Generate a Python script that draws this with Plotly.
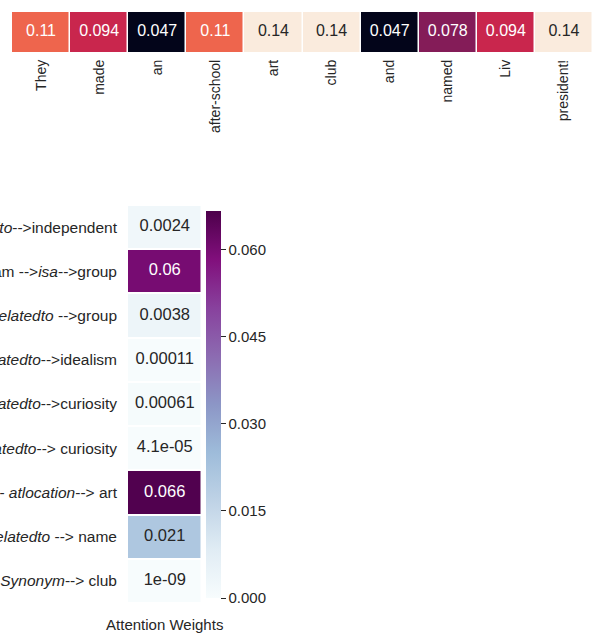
import plotly.graph_objects as go

# ---------------- data ----------------
tokens = ["They", "made", "an", "after-school", "art", "club", "and", "named", "Liv", "president!"]
token_weights = [0.11, 0.094, 0.047, 0.11, 0.14, 0.14, 0.047, 0.078, 0.094, 0.14]
token_text = ["0.11", "0.094", "0.047", "0.11", "0.14", "0.14", "0.047", "0.078", "0.094", "0.14"]

relations = [
    "art --<i>relatedto</i>-->independent",
    "team -->isa-->group".replace("isa", "<i>isa</i>"),
    "club --<i>relatedto</i> -->group",
    "art --<i>relatedto</i>-->idealism",
    "art --<i>relatedto</i>-->curiosity",
    "club --<i>relatedto</i>--> curiosity",
    "club -- <i>atlocation</i>--> art",
    "named --<i>relatedto</i> --> name",
    "society -- <i>Synonym</i>--> club",
]
relation_weights = [0.0024, 0.06, 0.0038, 0.00011, 0.00061, 4.1e-05, 0.066, 0.021, 1e-09]
relation_text = ["0.0024", "0.06", "0.0038", "0.00011", "0.00061", "4.1e-05", "0.066", "0.021", "1e-09"]
cbar_ticks = [0.0, 0.015, 0.030, 0.045, 0.060]

# ---------------- styles ----------------
W, H = 597, 641
SANS = "Liberation Sans, Arial, sans-serif"
DARK = "#262626"

rocket = [
    [0.0, "#03051A"], [0.143, "#35193E"], [0.286, "#701F57"], [0.429, "#AD1759"],
    [0.571, "#E13342"], [0.714, "#F37651"], [0.857, "#F6B48F"], [1.0, "#FAEBDD"],
]
bupu = [
    [0.0, "#f7fcfd"], [0.125, "#e0ecf4"], [0.25, "#bfd3e6"], [0.375, "#9ebcda"],
    [0.5, "#8c96c6"], [0.625, "#8c6bb1"], [0.75, "#88419d"], [0.875, "#810f7c"], [1.0, "#4d004b"],
]

def px_x(a, b):
    return [a / W, b / W]

def px_y(top, bottom):
    return [(H - bottom) / H, (H - top) / H]

fig = go.Figure()

# top heatmap
tmin, tmax = min(token_weights), max(token_weights)
fig.add_trace(go.Heatmap(
    z=[token_weights], x=list(range(len(tokens))), y=[0],
    colorscale=rocket, zmin=tmin, zmax=tmax, showscale=False,
    xgap=1.5, ygap=0, xaxis="x", yaxis="y", hoverinfo="skip",
))
top_colors = ["white" if (v - tmin) / (tmax - tmin) < 0.75 else DARK for v in token_weights]
fig.add_trace(go.Scatter(
    x=list(range(len(tokens))), y=[0] * len(tokens), mode="text", text=token_text,
    textfont=dict(family=SANS, size=16, color=top_colors),
    xaxis="x", yaxis="y", showlegend=False, hoverinfo="skip",
))

# bottom heatmap
rmax = 0.0667
fig.add_trace(go.Heatmap(
    z=[[v] for v in relation_weights], x=[0], y=list(range(len(relations))),
    colorscale=bupu, zmin=0, zmax=rmax, xgap=1.5, ygap=2,
    xaxis="x2", yaxis="y2", hoverinfo="skip",
    colorbar=dict(
        x=206 / W, xanchor="left", thickness=15, xpad=0, ypad=0,
        lenmode="fraction", len=(598 - 211) / H, y=(H - (211 + 598) / 2) / H, yanchor="middle",
        outlinewidth=0, tickvals=cbar_ticks, ticktext=[f"{t:.3f}" for t in cbar_ticks],
        ticks="outside", ticklen=5, tickwidth=1, tickcolor=DARK,
        tickfont=dict(family=SANS, size=15, color=DARK),
    ),
))
bot_colors = ["white" if v / rmax > 0.55 else DARK for v in relation_weights]
fig.add_trace(go.Scatter(
    x=[0] * len(relations), y=list(range(len(relations))), mode="text", text=relation_text,
    textfont=dict(family=SANS, size=16.5, color=bot_colors),
    xaxis="x2", yaxis="y2", showlegend=False, hoverinfo="skip",
))

fig.update_layout(
    width=W, height=H, margin=dict(l=0, r=0, t=0, b=0),
    paper_bgcolor="white", plot_bgcolor="white", showlegend=False,
    xaxis=dict(domain=px_x(12, 593), range=[-0.5, len(tokens) - 0.5],
               tickvals=list(range(len(tokens))), ticktext=tokens, tickangle=-90,
               tickfont=dict(family=SANS, size=14, color=DARK), showgrid=False,
               zeroline=False, showline=False, ticks="", ticklabelstandoff=4,
               anchor="y", automargin=False),
    yaxis=dict(domain=px_y(12, 52), range=[-0.5, 0.5], showticklabels=False,
               showgrid=False, zeroline=False, anchor="x", automargin=False),
    xaxis2=dict(domain=px_x(128, 201.5), range=[-0.5, 0.5], showticklabels=False,
                showgrid=False, zeroline=False, anchor="y2", automargin=False,
                title=dict(text="Attention Weights", font=dict(family=SANS, size=15, color=DARK), standoff=16)),
    yaxis2=dict(domain=px_y(205, 603), range=[len(relations) - 0.5, -0.5],
                tickvals=list(range(len(relations))), ticktext=relations,
                tickfont=dict(family=SANS, size=15.5, color=DARK), showgrid=False,
                zeroline=False, ticks="", ticklabelstandoff=10, anchor="x2", automargin=False),
)

fig.write_html("out.html", config={"displayModeBar": False},
               post_script="document.body.style.margin='0px';")
